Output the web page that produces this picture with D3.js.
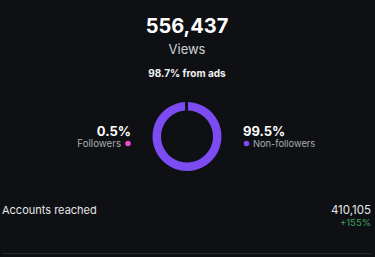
<!DOCTYPE html>
<html>
<head>
<meta charset="utf-8">
<script src="https://cdn.jsdelivr.net/npm/d3@7"></script>
<style>
body{margin:0;background:#0e1014;}
svg text{font-family:Inter,"Noto Sans",sans-serif;}
</style>
</head>
<body>
<svg id="chart" width="375" height="257"></svg>
<script>
var categories = ["Followers", "Non-followers"];
var shares = [0.5, 99.5];
var colors = ["#e94bd0", "#7c4cf2"];
var totalViews = 556437;
var adsShare = 98.7;
var reachedLabel = "Accounts reached";
var reachedValue = 410105;
var reachedChange = 155;

var svg = d3.select("#chart");
var W = 375, H = 257;
svg.append("rect").attr("width", W).attr("height", H).attr("fill", "#0e1014");

var cx = 187, cy = 136.5;
var fmt = d3.format(",");

// header
svg.append("text").attr("x", cx).attr("y", 33).attr("text-anchor", "middle")
  .attr("fill", "#fff").attr("font-size", 20).attr("font-weight", 700)
  .text(fmt(totalViews));
svg.append("text").attr("x", cx).attr("y", 54).attr("text-anchor", "middle")
  .attr("fill", "#d0d2d6").attr("font-size", 13)
  .text("Views");
svg.append("text").attr("x", cx).attr("y", 77).attr("text-anchor", "middle")
  .attr("fill", "#f2f2f2").attr("font-size", 10).attr("font-weight", 700)
  .text(adsShare + "% from ads");

// donut
var data = categories.map(function(c, i){ return {label: c, value: shares[i], color: colors[i]}; });
var pie = d3.pie().sort(null).value(function(d){ return d.value; })
  .startAngle(0).endAngle(2 * Math.PI);
// non-followers first so the tiny followers slice sits just left of top
var arcs = pie([data[1], data[0]]);
var arc = d3.arc().innerRadius(26).outerRadius(34.5).padAngle(0.045);
var g = svg.append("g").attr("transform", "translate(" + cx + "," + cy + ")");
g.selectAll("path").data(arcs).enter().append("path")
  .attr("d", arc)
  .attr("fill", function(d){ return d.data.color; });

// left legend (followers)
svg.append("text").attr("x", 131).attr("y", 136).attr("text-anchor", "end")
  .attr("fill", "#fff").attr("font-size", 13).attr("font-weight", 700)
  .text(shares[0] + "%");
svg.append("text").attr("x", 121).attr("y", 147).attr("text-anchor", "end")
  .attr("fill", "#a9adb4").attr("font-size", 9.7)
  .text(categories[0]);
svg.append("circle").attr("cx", 128).attr("cy", 143.5).attr("r", 2.8).attr("fill", colors[0]);

// right legend (non-followers)
svg.append("text").attr("x", 243).attr("y", 136).attr("text-anchor", "start")
  .attr("fill", "#fff").attr("font-size", 13).attr("font-weight", 700)
  .text(shares[1] + "%");
svg.append("circle").attr("cx", 246.5).attr("cy", 143.5).attr("r", 2.8).attr("fill", colors[1]);
svg.append("text").attr("x", 253).attr("y", 147).attr("text-anchor", "start")
  .attr("fill", "#a9adb4").attr("font-size", 9.3)
  .text(categories[1]);

// accounts reached row
svg.append("text").attr("x", 2).attr("y", 214)
  .attr("fill", "#e6e7ea").attr("font-size", 11)
  .text(reachedLabel);
svg.append("text").attr("x", 371).attr("y", 214).attr("text-anchor", "end")
  .attr("fill", "#e6e7ea").attr("font-size", 11.5)
  .text(fmt(reachedValue));
svg.append("text").attr("x", 371).attr("y", 226).attr("text-anchor", "end")
  .attr("fill", "#3fa45b").attr("font-size", 9.5)
  .text("+" + reachedChange + "%");

svg.append("line").attr("x1", 2).attr("x2", 371).attr("y1", 253.5).attr("y2", 253.5)
  .attr("stroke", "#24272d").attr("stroke-width", 1);
</script>
</body>
</html>
